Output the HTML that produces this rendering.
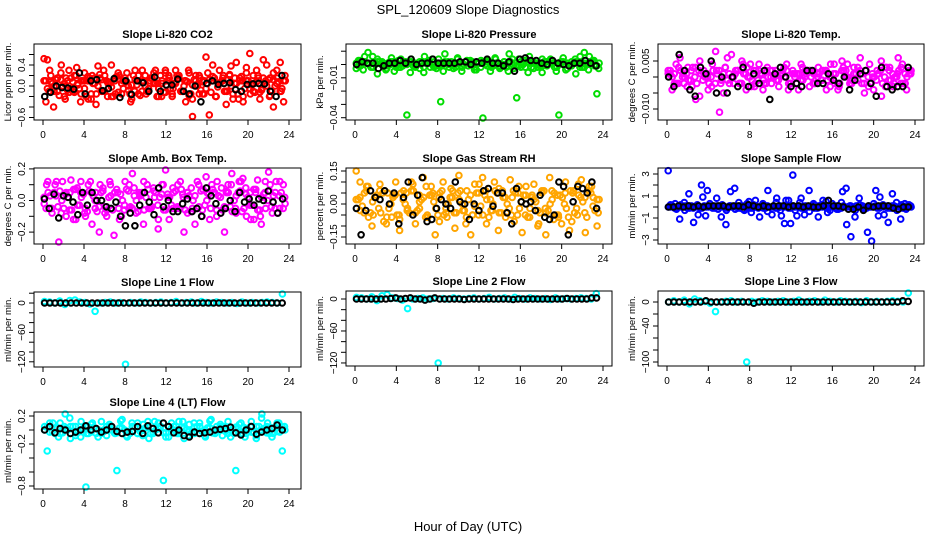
<!DOCTYPE html>
<html><head><meta charset="utf-8">
<style>
html,body{margin:0;padding:0;background:#fff;}
svg{display:block;font-family:"Liberation Sans",sans-serif;}
</style></head>
<body>
<svg id="chart" width="936" height="540" viewBox="0 0 936 540">
<text x="468" y="14" text-anchor="middle" font-size="13">SPL_120609  Slope Diagnostics</text>
<text x="468" y="531" text-anchor="middle" font-size="13">Hour of Day (UTC)</text>
</svg>
<script>
// ---- data (values per panel; points spread evenly across 0-24 h) ----
const hourTicks = [0,4,8,12,16,20,24];

const co2A = [0.52,0.5,0.2,-0.1,0.15,0.25,-0.2,0.1,-0.05,0.2,0.05,-0.15,0.25,0.1,-0.25,0.15,0.38,-0.1,0.2,0.05,-0.2,0.1,0.25,-0.15,0.15,0,-0.25,0.3,0.1,-0.1,0.2,-0.05,0.15,0.3,-0.2,0.05,0.25,0.1,-0.15,0.3,0.2,-0.1,-0.3,0.25,-0.58,0.1,0.2,-0.15,0.55,-0.55,0.4,-0.2,0.3,0.15,-0.35,0.2,-0.25,0.45,0.1,-0.3,0.35,0.62,-0.1,0.3,-0.25,0.5,0.4,0.15,-0.4,0.3,0.45,-0.3];
const co2B = [0.1,-0.05,0.08,0.0,-0.1,0.12,0.05,-0.08,0.15,-0.12,0.02,0.1,-0.05,0.18,-0.15,0.05,0.0,0.12,-0.1,0.08,-0.02,0.15,-0.12,0.05,0.1,-0.08,0.02,0.12,-0.15,0.08,0.0,-0.1,0.15,0.05,-0.05,0.1,-0.12,0.2,-0.2,0.05,0.15,-0.1,0.1,-0.18,0.02,0.2,-0.15,0.08,-0.05,0.12,0.18,-0.2,0.05,0.1,-0.1,0.22,-0.15,0.05,0.15,-0.2,0.1,-0.05,0.2,0.08,-0.12,0.15,0.0,-0.18,0.12,0.05,-0.1,0.1];
const co2K = [-0.2,-0.12,0.0,-0.03,-0.04,-0.06,0.25,-0.15,0.1,0.12,-0.09,-0.05,0.14,-0.22,0.1,-0.16,0.1,0.06,-0.1,0.17,-0.1,0.02,0.02,0.13,-0.1,-0.15,0.0,-0.3,0.05,0.1,0.03,0.05,0.06,-0.07,-0.1,0.03,0.04,0.05,0.04,-0.1,-0.2,0.2];

const presA = [-0.003,0.003,0.006,0.001,-0.002,0.004,0.0,-0.004,0.002,-0.005,0.003,-0.001,-0.038,0.004,-0.002,0.002,-0.006,0.001,0.004,-0.003,-0.028,0.008,0.0,-0.003,0.005,-0.005,0.002,0.003,-0.004,0.001,-0.043,0.003,-0.002,0.004,-0.001,0.002,-0.005,0.004,-0.025,-0.002,0.003,0.006,-0.003,0.001,-0.006,0.002,0.004,-0.002,-0.038,0.005,-0.003,0.002,-0.007,0.006,0.009,-0.004,0.003,-0.022];
const presB = [0.001,-0.001,0.002,0.0,-0.002,0.002,0.001,-0.001,0.0,0.002,-0.002,0.001,0.0,0.002,-0.001,0.001,-0.002,0.002,0.0,-0.001,0.001,0.002,-0.002,0.0,0.001,-0.001,0.002,0.0,-0.002,0.001,0.002,-0.001,0.0,0.001,-0.002,0.002,0.001,0.0,-0.001,0.002,-0.002,0.001,0.002,0.0,-0.001,0.002,0.001,-0.002,0.0,0.002,0.001,-0.001,0.002,0.0,-0.002,0.001,0.002,-0.001];
const presK = [0.0,0.002,0.001,0.001,-0.003,-0.001,0.001,0.001,0.003,0.001,0.004,0.0,0.001,0.001,0.004,0.001,0.001,0.001,0.001,0.002,0.002,0.0,0.002,0.001,0.004,0.001,0.001,-0.001,0.002,-0.005,0.004,0.005,0.003,0.003,0.001,0.0,0.003,0.001,0.0,-0.001,0.001,0.001,0.003,0.001,-0.001];

const tempA = [0.001,-0.004,0.004,0.006,-0.002,0.003,-0.003,-0.007,0.005,0.002,0.0,-0.003,0.008,-0.011,-0.005,0.006,0.007,0.001,-0.002,0.004,0.003,-0.003,-0.002,0.004,-0.004,0.002,0.0,0.001,-0.003,0.002,0.004,-0.002,0.001,-0.004,0.003,0.001,0.002,-0.002,0.003,-0.001,0.002,-0.003,0.004,-0.004,0.005,0.002,-0.002,0.001,0.003,-0.002,0.002,0.004,-0.004,0.001,-0.006,0.003,0.002,-0.003,0.001,0.003,-0.002,0.001];
const tempB = [0.002,0.0,-0.002,0.002,0.0,-0.001,0.003,-0.002,0.001,0.0,-0.002,0.002,0.001,-0.001,0.003,-0.002,0.0,0.002,-0.002,0.001,0.0,0.002,-0.001,0.001,-0.002,0.002,0.0,-0.001,0.001,0.002,-0.002,0.0,0.001,-0.001,0.002,0.0,-0.002,0.001,0.002,-0.001,0.0,0.001,-0.002,0.002,0.0,-0.001,0.001,0.002,-0.002,0.0,0.001,-0.001,0.002,0.0,-0.001,0.001,0.0,-0.002,0.001,0.002];
const tempK = [0.0,-0.003,0.007,0.002,-0.004,-0.006,0.003,0.001,0.005,-0.005,0.0,-0.005,0.0,-0.003,0.003,-0.003,0.001,-0.002,0.002,-0.007,0.001,0.003,0.0,-0.003,-0.002,-0.003,0.002,0.002,-0.002,-0.002,0.001,-0.001,-0.002,0.0,-0.004,-0.001,0.001,0.002,-0.002,-0.006,0.003,-0.003,-0.004,-0.003,-0.003,0.003];

const ambA = [0.02,0.12,-0.05,0.1,-0.28,0.12,-0.1,0.05,-0.12,0.08,0.12,-0.08,0.1,-0.15,0.05,-0.2,0.08,-0.1,0.1,-0.22,0.05,-0.1,0.12,-0.05,0.17,-0.08,0.04,-0.15,0.1,-0.05,0.02,-0.18,0.1,0.2,-0.12,0.08,-0.05,0.12,-0.2,0.05,0.08,-0.15,0.1,-0.06,0.15,-0.12,0.05,0.12,-0.08,-0.2,0.1,0.17,-0.05,0.12,0.14,-0.1,0.05,-0.12,0.13,-0.15,0.05,0.18,-0.08,0.12,-0.05,0.1];
const ambB = [-0.02,0.05,-0.08,0.03,0.06,-0.05,0.02,-0.06,0.07,-0.03,0.04,-0.07,0.05,0.0,-0.04,0.06,-0.06,0.03,0.05,-0.05,0.0,0.07,-0.04,0.03,-0.07,0.05,0.02,-0.05,0.06,-0.03,0.04,-0.06,0.02,0.05,-0.04,0.07,-0.06,0.03,0.0,-0.05,0.06,-0.03,0.04,0.07,-0.06,0.02,-0.04,0.05,-0.07,0.03,0.06,-0.05,0.02,-0.03,0.07,-0.06,0.04,0.0,-0.04,0.05,0.03,-0.05];
const ambK = [0.01,-0.05,0.04,-0.11,0.03,0.02,-0.01,-0.09,0.05,-0.03,0.05,0.0,0.0,-0.04,-0.05,-0.01,-0.1,-0.16,-0.08,-0.16,-0.03,0.05,-0.01,-0.09,0.08,-0.04,0.0,-0.07,-0.07,-0.02,0.01,-0.07,-0.05,-0.1,0.08,0.03,-0.02,-0.08,-0.05,0.0,-0.07,0.05,-0.01,0.01,-0.03,0.01,0.0,0.06,-0.01,-0.08,0.01];

const rhA = [0.15,0.1,-0.04,0.08,-0.1,0.03,0.09,-0.08,0.05,-0.06,0.1,-0.12,0.06,-0.02,0.1,-0.09,0.04,0.12,-0.05,0.08,-0.14,0.03,0.1,-0.06,0.07,-0.11,0.13,-0.03,0.06,-0.14,0.09,-0.05,0.12,-0.09,0.02,0.1,-0.12,0.06,-0.04,0.11,-0.08,0.05,-0.13,0.08,-0.02,0.09,-0.1,0.05,-0.14,0.12,-0.07,0.04,-0.09,0.1,-0.12,0.06,-0.05,0.11,-0.13,0.08,0.03,-0.1];
const rhB = [0.02,-0.03,0.05,-0.06,0.01,0.04,-0.04,0.06,-0.02,0.03,-0.05,0.05,0.0,-0.04,0.06,-0.03,0.02,-0.06,0.04,0.01,-0.05,0.06,-0.02,0.03,-0.04,0.05,0.0,-0.06,0.04,-0.01,0.05,-0.05,0.02,-0.03,0.06,-0.04,0.03,0.0,-0.05,0.05,-0.02,0.04,-0.06,0.03,0.01,-0.04,0.06,-0.03,0.02,-0.05,0.04,0.0,-0.06,0.05,-0.02,0.03,-0.04,0.06,-0.01,0.02];
const rhK = [-0.02,-0.14,-0.03,0.06,0.03,0.02,0.06,0.0,0.05,-0.09,0.03,0.1,-0.05,0.04,0.12,-0.08,-0.07,-0.02,0.02,0.0,-0.02,0.1,0.01,0.0,-0.07,0.0,-0.03,0.06,0.07,-0.01,0.05,0.05,-0.04,-0.09,0.07,0.01,0.0,0.01,-0.03,0.04,-0.06,-0.07,-0.05,0.1,0.08,-0.14,0.01,0.08,0.07,0.05,0.1,-0.02];

const flowA = [3.3,0.1,-0.2,0.2,-0.3,0.1,-0.1,0.2,2.0,-0.8,0.3,0.0,-0.2,0.2,-0.3,0.1,1.7,0.4,-0.2,0.3,-0.5,0.6,-0.9,0.2,1.5,-0.7,0.4,-0.3,-1.5,0.6,2.9,-0.8,0.8,0.0,-0.4,0.3,-0.1,0.2,0.5,-0.3,0.1,-0.2,1.4,-1.6,-2.7,-0.9,0.8,0.0,-2.3,-3.1,1.5,0.9,-0.7,-1.4,1.2,0.4,-1.1,0.3,0.2];
const flowB = [0.0,0.1,-0.1,0.0,0.1,-0.1,0.0,0.1,-0.1,0.0,0.1,-0.1,0.0,0.1,-0.1,0.0,0.1,-0.1,0.0,0.1,-0.1,0.0,0.1,-0.1,0.0,0.1,-0.1,0.0,0.1,-0.1,0.0,0.1,-0.1,0.0,0.1,-0.1,0.0,0.1,-0.1,0.0,0.1,-0.1,0.0,0.1,-0.1,0.0,0.1,-0.1,0.0,0.1,-0.1,0.0,0.1,-0.1,0.0,0.1,-0.1,0.0];
const flowK = [0.0,0.0,0.1,0.0,0.1,0.0,0.1,0.0,0.1,0.1,0.1,0.1,0.0,0.1,0.1,0.0,0.2,0.1,0.0,0.1,0.0,0.1,0.1,0.1,0.0,0.1,0.1,0.0,0.1,0.0,0.0,0.1,0.6,0.1,0.1,0.0,-0.2,-0.2,0.0,-0.3,0.1,0.0,0.1,0.1,0.1,-0.1,-0.2,0.0,0.0];

const line1A = [3,2,0,4,-3,5,6,2,1,-2,-17,0,1,2,0,1,-125,1,0,2,1,0,1,2,0,1,3,0,1,2,0,3,1,0,2,1,0,1,-1,2,0,1,0,1,2,1,0,19];
const line1K = [0,0,0,0,0,0,0,0,0,0,0,0,0,0,0,0,0,0,0,0,0,0,0,0,0,0,0,0,0,0,0,0,0,0,0,0,0,0,0,0,0,0,0,0,0,0];
const line2A = [3,2,0,4,-3,6,8,2,1,-2,-18,0,1,2,0,1,-120,1,0,2,1,0,1,2,0,1,3,0,1,2,0,3,1,0,2,1,0,1,-1,2,0,1,0,1,2,1,0,10];
const line2K = [0,0,0,0,0,0,0,1,2,0,1,2,0,0,-2,0,2,0,0,0,0,0,-1,0,0,0,0,0,0,0,0,0,-1,0,0,0,0,0,0,0,0,0,0,1,0,0,0,0,2,2];
const line3A = [0,2,0,3,-3,5,2,1,-2,-16,0,1,2,0,1,-100,1,0,2,1,0,1,2,0,1,3,0,1,2,0,3,1,0,2,1,0,1,-1,2,0,1,0,1,2,1,0,15];
const line3K = [0,0,0,0,0,0,0,2,0,0,0,0,0,0,0,0,-2,0,0,0,0,0,0,0,0,0,0,0,0,0,0,0,0,0,0,0,0,0,0,0,0,0,0,0,2,1];
const line4A = [0.05,0.1,-0.05,0.1,0.25,-0.12,0.05,-0.1,-0.85,0.08,-0.05,0.12,-0.08,0.05,-0.58,0.15,-0.1,0.05,0.1,-0.08,0.12,-0.05,0.1,-0.72,-0.1,0.05,0.12,-0.12,0.08,-0.05,0.1,-0.08,0.13,-0.05,0.08,0.0,-0.1,-0.58,0.1,-0.05,0.12,-0.08,0.17,0.05,-0.1,0.1,-0.3];
const line4B = [0.0,-0.03,0.03,-0.05,0.02,0.05,-0.04,0.0,0.04,-0.03,0.02,-0.05,0.05,0.0,-0.04,0.03,-0.02,0.05,-0.05,0.0,0.04,-0.03,0.02,-0.04,0.05,0.0,-0.05,0.03,-0.02,0.04,-0.05,0.0,0.03,-0.04,0.05,-0.02,0.0,0.04,-0.05,0.02,-0.03,0.05,0.0,-0.04,0.03,-0.02,0.04];
const line4K = [0.0,0.05,-0.04,0.02,0.0,-0.05,-0.03,0.0,0.06,0.0,0.02,-0.03,0.0,0.05,-0.02,-0.05,-0.03,-0.02,0.05,-0.05,0.06,0.02,-0.04,0.1,0.05,-0.04,0.0,-0.08,-0.1,-0.03,-0.05,-0.04,-0.03,0.0,0.01,0.02,0.04,-0.04,-0.07,0.0,0.05,-0.06,-0.03,0.0,0.02,0.07,0.0];

const tickCO2 = [-0.6,-0.4,-0.2,0,0.2,0.4,0.6], labCO2 = ["-0.6","0.0","0.4"];
const tickPres = [-0.04,-0.03,-0.02,-0.01,0,0.01], labPres = ["-0.04","-0.01"];
const tickTemp = [-0.01,-0.005,0,0.005], labTemp = ["-0.010","0.005"];
const tickAmb = [-0.2,-0.1,0,0.1,0.2], labAmb = ["-0.2","0.0","0.2"];
const tickRH = [-0.15,-0.1,-0.05,0,0.05,0.1,0.15], labRH = ["-0.15","0.00","0.15"];
const tickFlow = [-3,-2,-1,0,1,2,3], labFlow = ["-3","-1","1","3"];
const tickL1 = [-120,-100,-80,-60,-40,-20,0,20], labL1 = ["-120","-60","0"];
const tickL2 = [-120,-100,-80,-60,-40,-20,0], labL2 = ["-120","-60","0"];
const tickL3 = [-100,-80,-60,-40,-20,0], labL3 = ["-100","-40","0"];
const tickL4 = [-0.8,-0.6,-0.4,-0.2,0,0.2], labL4 = ["-0.8","-0.2","0.2"];

// ---- layout ----
const NS = "http://www.w3.org/2000/svg";
const svg = document.getElementById("chart");
function mk(tag, attrs, parent){ const e=document.createElementNS(NS,tag); for(const k in attrs) e.setAttribute(k,attrs[k]); (parent||svg).appendChild(e); return e; }

const cols = [{x0:34,x1:301,h0:43,h24:289},{x0:346,x1:612,h0:355,h24:603},{x0:658,x1:924,h0:667,h24:915}];
const panels = [
 {key:"co2",title:"Slope Li-820 CO2",ylab:"Licor ppm per min.",c:0,top:44,bot:120,y0:86,k:52.5,col:"#ff0000",A:co2A,B:co2B,K:co2K,ticks:tickCO2,labs:labCO2},
 {key:"pressure",title:"Slope Li-820 Pressure",ylab:"kPa per min.",c:1,top:44,bot:120,y0:64.5,k:1330,col:"#00dd00",A:presA,B:presB,K:presK,ticks:tickPres,labs:labPres},
 {key:"temp",title:"Slope Li-820 Temp.",ylab:"degrees C per min.",c:2,top:44,bot:120,y0:77,k:3200,col:"#ff00ff",A:tempA,B:tempB,K:tempK,ticks:tickTemp,labs:labTemp},
 {key:"amb-temp",title:"Slope Amb. Box Temp.",ylab:"degrees C per min.",c:0,top:168,bot:244,y0:200.5,k:158,col:"#ff00ff",A:ambA,B:ambB,K:ambK,ticks:tickAmb,labs:labAmb},
 {key:"rh",title:"Slope Gas Stream RH",ylab:"percent per min.",c:1,top:168,bot:244,y0:204,k:220,col:"#ffa500",A:rhA,B:rhB,K:rhK,ticks:tickRH,labs:labRH},
 {key:"sample-flow",title:"Slope Sample Flow",ylab:"ml/min per min.",c:2,top:168,bot:244,y0:207,k:11,col:"#0000ff",A:flowA,B:flowB,K:flowK,ticks:tickFlow,labs:labFlow},
 {key:"line1",title:"Slope Line 1 Flow",ylab:"ml/min per min.",c:0,top:292,bot:367,y0:303,k:0.49,col:"#00ffff",A:line1A,B:null,K:line1K,ticks:tickL1,labs:labL1},
 {key:"line2",title:"Slope Line 2 Flow",ylab:"ml/min per min.",c:1,top:291,bot:366,y0:299,k:0.533,col:"#00ffff",A:line2A,B:null,K:line2K,ticks:tickL2,labs:labL2},
 {key:"line3",title:"Slope Line 3 Flow",ylab:"ml/min per min.",c:2,top:291,bot:366,y0:302,k:0.6,col:"#00ffff",A:line3A,B:null,K:line3K,ticks:tickL3,labs:labL3},
 {key:"line4",title:"Slope Line 4 (LT) Flow",ylab:"ml/min per min.",c:0,top:412,bot:489,y0:430,k:70,col:"#00ffff",A:line4A,B:line4B,K:line4K,ticks:tickL4,labs:labL4}
];

panels.forEach(p=>{
  const C = cols[p.c];
  const xs = h => C.h0 + (C.h24-C.h0)*h/24;
  const ys = v => p.y0 - p.k*v;
  const g = mk("g",{});
  
  
  const t = mk("text",{x:(C.x0+C.x1)/2,y:p.top-6,"text-anchor":"middle","font-size":"11","font-weight":"bold"},g);
  t.textContent = p.title;
  
  
  const drawSeries = (arr, color, r, name, phase, rev) => {
    if(!arr) return;
    const sg = mk("g",{},g);
    
    
    const n = arr.length;
    for(let i=0;i<n;i++){
      const v = rev ? arr[n-1-i] : arr[i];
      const h = (i+phase)*23.7/n;
      const cy = Math.max(p.top+2, Math.min(p.bot-2, ys(v)));
      const c = mk("circle",{cx:xs(h).toFixed(1),cy:cy.toFixed(1),r:r,fill:"none",stroke:color,"stroke-width":2},sg);
      
      
    }
  };
  const dense = p.B !== null;
  drawSeries(p.B, p.col, 2.8, 'series-dense-'+p.key, 0.3, false);
  if(dense) drawSeries(p.B, p.col, 2.8, 'series-dense2-'+p.key, 0.8, true);
  drawSeries(p.A, p.col, 2.8, 'series-'+p.key, 0.3, false);
  if(dense) drawSeries(p.A.filter(v=>Math.abs(p.k*v) < 22), p.col, 2.8, 'series2-'+p.key, 0.75, true);
  drawSeries(p.K, "#000", 2.8, 'series-black-'+p.key, 0.3, false);
  const box = mk("rect",{x:C.x0,y:p.top,width:C.x1-C.x0,height:p.bot-p.top,fill:"none",stroke:"#000","stroke-width":1},g);
  
  
  hourTicks.forEach(h=>{
    mk("line",{x1:xs(h),x2:xs(h),y1:p.bot,y2:p.bot+5,stroke:"#000"},g);
    const tl = mk("text",{x:xs(h),y:p.bot+18,"text-anchor":"middle","font-size":"10"},g);
    tl.textContent = h;
    
    
  });
  p.ticks.forEach(v=>{
    mk("line",{x1:C.x0-5,x2:C.x0,y1:ys(v),y2:ys(v),stroke:"#000"},g);
  });
  p.labs.forEach(s=>{
    const v = parseFloat(s), y = ys(v), x = C.x0-9;
    const yl = mk("text",{x:x,y:y,"text-anchor":"middle","font-size":"10",transform:`rotate(-90 ${x} ${y})`},g);
    yl.textContent = s.replace("-","\u2212");
    
    
  });
  const yx = C.x0-23, yy=(p.top+p.bot)/2;
  const yt = mk("text",{x:yx,y:yy,"text-anchor":"middle","font-size":"9.5",transform:`rotate(-90 ${yx} ${yy})`},g);
  yt.textContent = p.ylab;
  
  
});
</script>
</body></html>
